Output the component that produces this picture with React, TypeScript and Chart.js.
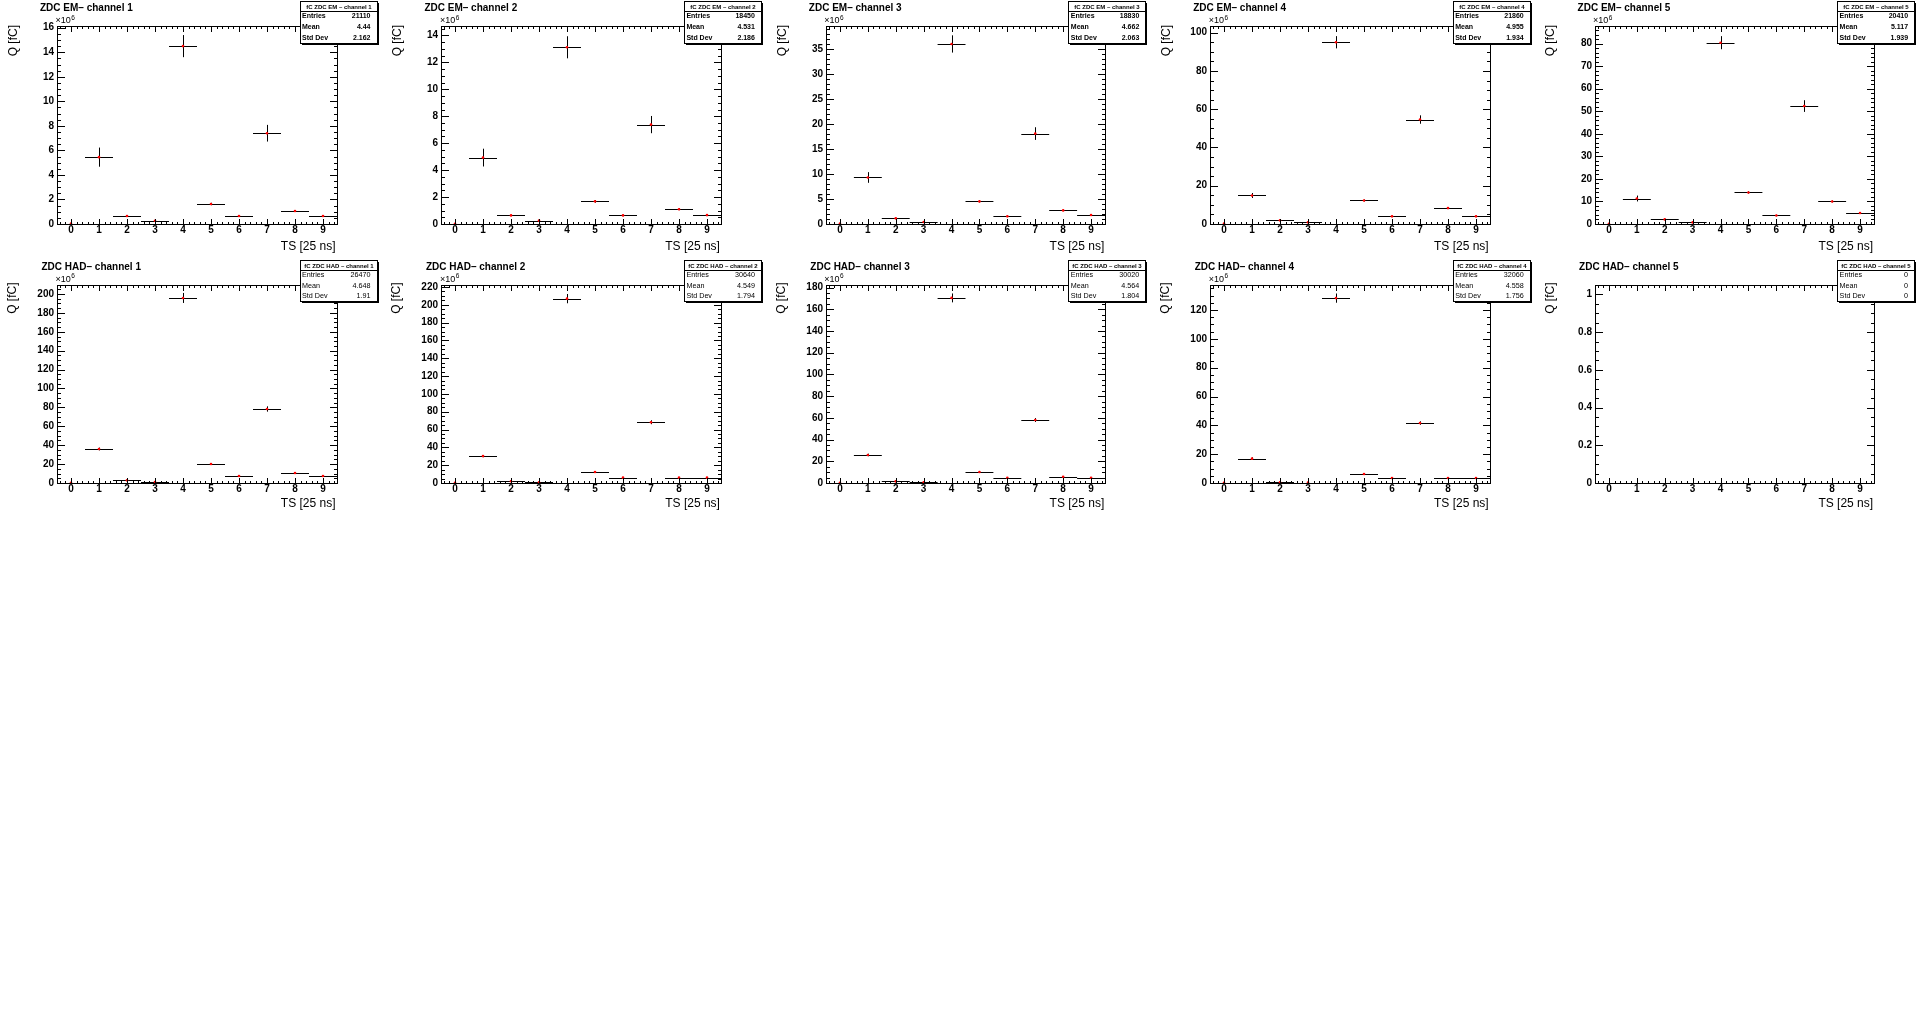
import React, { useEffect, useRef } from 'react';
import { Chart, registerables } from 'chart.js';

Chart.register(...registerables);

// ---------------- data ----------------
const TS_BINS = [0, 1, 2, 3, 4, 5, 6, 7, 8, 9];
const X_TICKS = [0, 1, 2, 3, 4, 5, 6, 7, 8, 9];
const X_MIN = -0.5;
const X_MAX = 9.5;
const BIN_WIDTH = 1;
const X_MINOR_STEP = 0.2;

const EM_TITLES = ['ZDC EM\u2013 channel 1', 'ZDC EM\u2013 channel 2', 'ZDC EM\u2013 channel 3', 'ZDC EM\u2013 channel 4', 'ZDC EM\u2013 channel 5'];
const HAD_TITLES = ['ZDC HAD\u2013 channel 1', 'ZDC HAD\u2013 channel 2', 'ZDC HAD\u2013 channel 3', 'ZDC HAD\u2013 channel 4', 'ZDC HAD\u2013 channel 5'];
const EM_STAT_NAMES = ['fC ZDC EM \u2013 channel 1', 'fC ZDC EM \u2013 channel 2', 'fC ZDC EM \u2013 channel 3', 'fC ZDC EM \u2013 channel 4', 'fC ZDC EM \u2013 channel 5'];
const HAD_STAT_NAMES = ['fC ZDC HAD \u2013 channel 1', 'fC ZDC HAD \u2013 channel 2', 'fC ZDC HAD \u2013 channel 3', 'fC ZDC HAD \u2013 channel 4', 'fC ZDC HAD \u2013 channel 5'];

const EM_ENTRIES = ['21110', '18450', '18830', '21860', '20410'];
const EM_MEAN = ['4.44', '4.531', '4.662', '4.955', '5.117'];
const EM_STD = ['2.162', '2.186', '2.063', '1.934', '1.939'];
const HAD_ENTRIES = ['26470', '30640', '30020', '32060', '0'];
const HAD_MEAN = ['4.648', '4.549', '4.564', '4.558', '0'];
const HAD_STD = ['1.91', '1.794', '1.804', '1.756', '0'];

// charge in units of 10^6 fC, per time slice
const EM_CH1_Q = [0.03, 5.45, 0.65, 0.26, 14.5, 1.63, 0.65, 7.4, 1.06, 0.65];
const EM_CH1_ERR = [0.01, 0.78, 0.05, 0.03, 0.9, 0.1, 0.05, 0.68, 0.07, 0.05];
const EM_CH2_Q = [0.02, 4.93, 0.64, 0.25, 13.12, 1.68, 0.64, 7.38, 1.1, 0.66];
const EM_CH2_ERR = [0.01, 0.66, 0.05, 0.03, 0.82, 0.1, 0.05, 0.64, 0.07, 0.05];
const EM_CH3_Q = [0.1, 9.33, 1.13, 0.4, 36.1, 4.53, 1.53, 18.13, 2.73, 1.8];
const EM_CH3_ERR = [0.02, 1.07, 0.1, 0.05, 1.73, 0.2, 0.12, 1.27, 0.15, 0.12];
const EM_CH4_Q = [0.2, 14.9, 1.9, 0.85, 95.0, 12.3, 4.0, 54.6, 8.3, 4.0];
const EM_CH4_ERR = [0.05, 1.3, 0.2, 0.1, 3.2, 0.5, 0.3, 2.2, 0.4, 0.3];
const EM_CH5_Q = [0.1, 11.3, 2.05, 0.7, 80.4, 14.0, 3.8, 52.3, 10.0, 4.85];
const EM_CH5_ERR = [0.05, 1.3, 0.2, 0.1, 2.9, 0.5, 0.3, 2.6, 0.4, 0.3];
const HAD_CH1_Q = [0.2, 36.0, 2.8, 1.0, 195.8, 20.1, 7.4, 78.3, 10.6, 7.4];
const HAD_CH1_ERR = [0.05, 1.5, 0.2, 0.1, 5.3, 0.5, 0.3, 2.8, 0.4, 0.3];
const HAD_CH2_Q = [0.2, 30.2, 1.9, 0.8, 206.9, 12.3, 6.0, 68.2, 6.0, 6.0];
const HAD_CH2_ERR = [0.05, 1.2, 0.15, 0.1, 5.2, 0.4, 0.3, 2.2, 0.3, 0.3];
const HAD_CH3_Q = [0.2, 25.8, 1.5, 0.6, 170.5, 10.1, 4.9, 58.0, 5.8, 4.9];
const HAD_CH3_ERR = [0.05, 1.2, 0.15, 0.1, 4.1, 0.3, 0.3, 1.8, 0.3, 0.3];
const HAD_CH4_Q = [0.1, 16.9, 0.5, 0.3, 128.3, 6.2, 3.5, 41.6, 3.5, 3.5];
const HAD_CH4_ERR = [0.05, 0.9, 0.1, 0.05, 3.2, 0.2, 0.2, 1.2, 0.2, 0.2];
const HAD_CH5_Q: number[] = [];
const HAD_CH5_ERR: number[] = [];

const EM_Y_MAX = [16.14, 14.7, 39.7, 103.5, 87.8];
const HAD_Y_MAX = [209.5, 222.2, 182.4, 137.4, 1.05];

const Y_TICKS_EM1 = [0, 2, 4, 6, 8, 10, 12, 14, 16];
const Y_TICKS_EM2 = [0, 2, 4, 6, 8, 10, 12, 14];
const Y_TICKS_EM3 = [0, 5, 10, 15, 20, 25, 30, 35];
const Y_TICKS_EM4 = [0, 20, 40, 60, 80, 100];
const Y_TICKS_EM5 = [0, 10, 20, 30, 40, 50, 60, 70, 80];
const Y_TICKS_HAD1 = [0, 20, 40, 60, 80, 100, 120, 140, 160, 180, 200];
const Y_TICKS_HAD2 = [0, 20, 40, 60, 80, 100, 120, 140, 160, 180, 200, 220];
const Y_TICKS_HAD3 = [0, 20, 40, 60, 80, 100, 120, 140, 160, 180];
const Y_TICKS_HAD4 = [0, 20, 40, 60, 80, 100, 120];
const Y_TICKS_HAD5 = [0, 0.2, 0.4, 0.6, 0.8, 1];
const EM_Y_MINOR = [0.5, 0.5, 1, 5, 2];
const HAD_Y_MINOR = [5, 5, 5, 5, 0.05];

const EXPONENT_BASE = '\u00d710';
const EXPONENT = '6';

// ---------------- layout ----------------
const PAGE_W = 1922;
const PAGE_H = 1034;
const PAD_W = PAGE_W / 5;
const PAD_H = PAGE_H / 4;
const CANVAS_W = 386;
const CANVAS_H = 260;
const FRAME_L = 57;
const FRAME_R = 336.5;
const FRAME_T = 26;
const FRAME_B = 224;
const FONT = '"Liberation Sans", Arial, Helvetica, sans-serif';
const ROW_YTITLE_X = [16.8, 16];
const ROW_YTITLE_END = [25, 24];
const ROW_XTITLE_BASE = [249.5, 248];
const ROW_TITLE_X = [40, 41.5];

type PadProps = {
  col: number;
  row: number;
  title: string;
  statName: string;
  entries: string;
  mean: string;
  std: string;
  q: number[];
  err: number[];
  yMax: number;
  yTicks: number[];
  yMinor: number;
  showExp: boolean;
};

function fmt(v: number): string {
  return String(Math.round(v * 1000) / 1000);
}

function Pad(p: PadProps) {
  const ref = useRef<HTMLCanvasElement>(null);
  const left = Math.floor(p.col * PAD_W);
  const top = Math.floor(p.row * PAD_H);
  const ox = p.col * PAD_W - left;
  const oy = p.row * PAD_H - top;

  useEffect(() => {
    const canvas = ref.current;
    if (!canvas) return;
    const fl = Math.round(FRAME_L + ox);
    const fr = Math.round(FRAME_R + ox);
    const ft = Math.round(FRAME_T + oy);
    const fb = Math.round(FRAME_B + oy);

    const points = p.q.map((v, i) => ({ x: TS_BINS[i], y: v }));

    const rootPlugin = {
      id: 'rootPad',
      beforeDatasetsDraw(chart: any) {
        const { ctx } = chart;
        const xs = chart.scales.x;
        const ys = chart.scales.y;
        ctx.save();
        ctx.strokeStyle = '#000';
        ctx.lineWidth = 1;
        p.q.forEach((v, i) => {
          const c = TS_BINS[i];
          const px = Math.round(xs.getPixelForValue(c)) + 0.5;
          const py = Math.round(ys.getPixelForValue(v)) + 0.5;
          const xl = xs.getPixelForValue(c - BIN_WIDTH / 2);
          const xr = xs.getPixelForValue(c + BIN_WIDTH / 2);
          const yt = ys.getPixelForValue(v + p.err[i]);
          const yb = Math.min(ys.getPixelForValue(v - p.err[i]), fb);
          ctx.beginPath();
          ctx.moveTo(xl, py);
          ctx.lineTo(xr, py);
          ctx.moveTo(px, yt);
          ctx.lineTo(px, yb);
          ctx.stroke();
        });
        ctx.restore();
      },
      afterDraw(chart: any) {
        const { ctx } = chart;
        const xs = chart.scales.x;
        const ys = chart.scales.y;
        ctx.save();
        ctx.strokeStyle = '#000';
        ctx.fillStyle = '#000';
        ctx.lineWidth = 1;
        // frame
        ctx.strokeRect(fl + 0.5, ft + 0.5, fr - fl, fb - ft);
        // ticks
        ctx.beginPath();
        const yLen = 8;
        const xLen = 6;
        for (let k = 0; k * p.yMinor <= p.yMax + 1e-9; k++) {
          const v = k * p.yMinor;
          const py = Math.round(ys.getPixelForValue(v)) + 0.5;
          ctx.moveTo(fl, py); ctx.lineTo(fl + yLen / 2, py);
          ctx.moveTo(fr + 1, py); ctx.lineTo(fr + 1 - yLen / 2, py);
        }
        p.yTicks.forEach((v) => {
          const py = Math.round(ys.getPixelForValue(v)) + 0.5;
          ctx.moveTo(fl, py); ctx.lineTo(fl + yLen, py);
          ctx.moveTo(fr + 1, py); ctx.lineTo(fr + 1 - yLen, py);
        });
        for (let k = Math.ceil(X_MIN / X_MINOR_STEP); k * X_MINOR_STEP <= X_MAX; k++) {
          const v = k * X_MINOR_STEP;
          const px = Math.round(xs.getPixelForValue(v)) + 0.5;
          ctx.moveTo(px, fb + 1); ctx.lineTo(px, fb + 1 - xLen / 2);
          ctx.moveTo(px, ft); ctx.lineTo(px, ft + xLen / 2);
        }
        X_TICKS.forEach((v) => {
          const px = Math.round(xs.getPixelForValue(v)) + 0.5;
          ctx.moveTo(px, fb + 1); ctx.lineTo(px, fb + 1 - xLen);
          ctx.moveTo(px, ft); ctx.lineTo(px, ft + xLen);
        });
        ctx.stroke();

        // pad title
        ctx.textAlign = 'left';
        ctx.textBaseline = 'alphabetic';
        ctx.font = `bold 10px ${FONT}`;
        ctx.fillText(p.title, ROW_TITLE_X[p.row] + ox, 11 + oy);

        // exponent
        if (p.showExp) {
          ctx.font = `9px ${FONT}`;
          ctx.fillText(EXPONENT_BASE, 55.5 + ox, 23 + oy);
          const w = ctx.measureText(EXPONENT_BASE).width;
          ctx.font = `6.5px ${FONT}`;
          ctx.fillText(EXPONENT, 55.5 + ox + w + 0.5, 19.5 + oy);
        }

        // axis titles
        ctx.font = `12px ${FONT}`;
        ctx.textAlign = 'right';
        ctx.fillText('TS [25 ns]', 335.5 + ox, ROW_XTITLE_BASE[p.row] + oy);
        ctx.save();
        ctx.translate(ROW_YTITLE_X[p.row] + ox, ROW_YTITLE_END[p.row] + oy);
        ctx.rotate(-Math.PI / 2);
        ctx.textAlign = 'right';
        ctx.fillText('Q [fC]', 0, 0);
        ctx.restore();

        // stats box
        const bx1 = Math.round(299.5 + ox);
        const bx2 = Math.round(376.5 + ox);
        const by1 = Math.round(1.3 + oy);
        const by2 = Math.round(42.5 + oy);
        ctx.fillStyle = '#fff';
        ctx.fillRect(bx1, by1, bx2 - bx1, by2 - by1);
        ctx.fillStyle = '#000';
        ctx.strokeRect(bx1 + 0.5, by1 + 0.5, bx2 - bx1, by2 - by1);
        ctx.fillRect(bx2 + 1, by1 + 2, 1, by2 - by1);
        ctx.fillRect(bx1 + 2, by2 + 1, bx2 - bx1, 1);
        ctx.beginPath();
        ctx.moveTo(bx1, by1 + 10.5);
        ctx.lineTo(bx2 + 1, by1 + 10.5);
        ctx.stroke();
        ctx.textAlign = 'center';
        ctx.font = `bold 6px ${FONT}`;
        ctx.fillText(p.statName, (bx1 + bx2) / 2 + 0.5, by1 + 7.6);
        const rowFont = p.row === 0 ? `bold 7px ${FONT}` : `7.2px ${FONT}`;
        ctx.font = rowFont;
        const labels = ['Entries', 'Mean', 'Std Dev'];
        const vals = [p.entries, p.mean, p.std];
        const bases = [18.2, 29.1, 39.8];
        labels.forEach((lab, i) => {
          ctx.textAlign = 'left';
          ctx.fillText(lab, 302 + ox, bases[i] + oy);
          ctx.textAlign = 'right';
          ctx.fillText(vals[i], 370.5 + ox, bases[i] + oy);
        });
        ctx.restore();
      },
    };

    const chart = new Chart(canvas, {
      type: 'scatter',
      data: {
        datasets: [
          {
            data: points,
            pointRadius: 1.3,
            pointStyle: 'circle',
            pointBackgroundColor: '#ff0000',
            pointBorderColor: '#ff0000',
            pointBorderWidth: 0,
            showLine: false,
          },
        ],
      },
      options: {
        animation: false,
        responsive: false,
        maintainAspectRatio: false,
        devicePixelRatio: 1,
        events: [],
        layout: { padding: { left: 0, top: ft, right: CANVAS_W - fr, bottom: 0 } },
        plugins: { legend: { display: false }, tooltip: { enabled: false }, title: { display: false } },
        scales: {
          x: {
            type: 'linear',
            position: 'bottom',
            min: X_MIN,
            max: X_MAX,
            grid: { display: false, drawTicks: false, tickLength: 0 },
            border: { display: false },
            ticks: {
              color: '#000',
              font: { family: FONT, size: 10, weight: 'bold' },
              padding: 0,
              maxRotation: 0,
              autoSkip: false,
              callback: (v: any) => fmt(Number(v)),
            },
            afterBuildTicks: (s: any) => {
              s.ticks = X_TICKS.map((v) => ({ value: v }));
            },
            afterFit: (s: any) => {
              s.height = CANVAS_H - fb;
            },
          },
          y: {
            type: 'linear',
            position: 'left',
            min: 0,
            max: p.yMax,
            grid: { display: false, drawTicks: false, tickLength: 0 },
            border: { display: false },
            ticks: {
              color: '#000',
              font: { family: FONT, size: 10, weight: 'bold' },
              padding: 3,
              autoSkip: false,
              callback: (v: any) => fmt(Number(v)),
            },
            afterBuildTicks: (s: any) => {
              s.ticks = p.yTicks.map((v) => ({ value: v }));
            },
            afterFit: (s: any) => {
              s.width = fl;
            },
          },
        },
      },
      plugins: [rootPlugin],
    } as any);
    return () => chart.destroy();
  }, []);

  return (
    <canvas
      ref={ref}
      width={CANVAS_W}
      height={CANVAS_H}
      style={{ position: 'absolute', left, top, width: CANVAS_W, height: CANVAS_H }}
    />
  );
}

const EM_Q = [EM_CH1_Q, EM_CH2_Q, EM_CH3_Q, EM_CH4_Q, EM_CH5_Q];
const EM_ERR = [EM_CH1_ERR, EM_CH2_ERR, EM_CH3_ERR, EM_CH4_ERR, EM_CH5_ERR];
const HAD_Q = [HAD_CH1_Q, HAD_CH2_Q, HAD_CH3_Q, HAD_CH4_Q, HAD_CH5_Q];
const HAD_ERR = [HAD_CH1_ERR, HAD_CH2_ERR, HAD_CH3_ERR, HAD_CH4_ERR, HAD_CH5_ERR];
const EM_Y_TICKS = [Y_TICKS_EM1, Y_TICKS_EM2, Y_TICKS_EM3, Y_TICKS_EM4, Y_TICKS_EM5];
const HAD_Y_TICKS = [Y_TICKS_HAD1, Y_TICKS_HAD2, Y_TICKS_HAD3, Y_TICKS_HAD4, Y_TICKS_HAD5];

export default function App() {
  useEffect(() => {
    document.documentElement.style.overflow = 'hidden';
  }, []);
  const pads: PadProps[] = [];
  for (let c = 0; c < 5; c++) {
    pads.push({
      col: c, row: 0, title: EM_TITLES[c], statName: EM_STAT_NAMES[c],
      entries: EM_ENTRIES[c], mean: EM_MEAN[c], std: EM_STD[c],
      q: EM_Q[c], err: EM_ERR[c], yMax: EM_Y_MAX[c], yTicks: EM_Y_TICKS[c], yMinor: EM_Y_MINOR[c],
      showExp: true,
    });
  }
  for (let c = 0; c < 5; c++) {
    pads.push({
      col: c, row: 1, title: HAD_TITLES[c], statName: HAD_STAT_NAMES[c],
      entries: HAD_ENTRIES[c], mean: HAD_MEAN[c], std: HAD_STD[c],
      q: HAD_Q[c], err: HAD_ERR[c], yMax: HAD_Y_MAX[c], yTicks: HAD_Y_TICKS[c], yMinor: HAD_Y_MINOR[c],
      showExp: HAD_Q[c].length > 0,
    });
  }
  return (
    <div style={{ position: 'absolute', left: 0, top: 0, width: PAGE_W, height: PAGE_H, background: '#fff', overflow: 'hidden' }}>
      {pads.map((pp, i) => (
        <Pad key={i} {...pp} />
      ))}
    </div>
  );
}
